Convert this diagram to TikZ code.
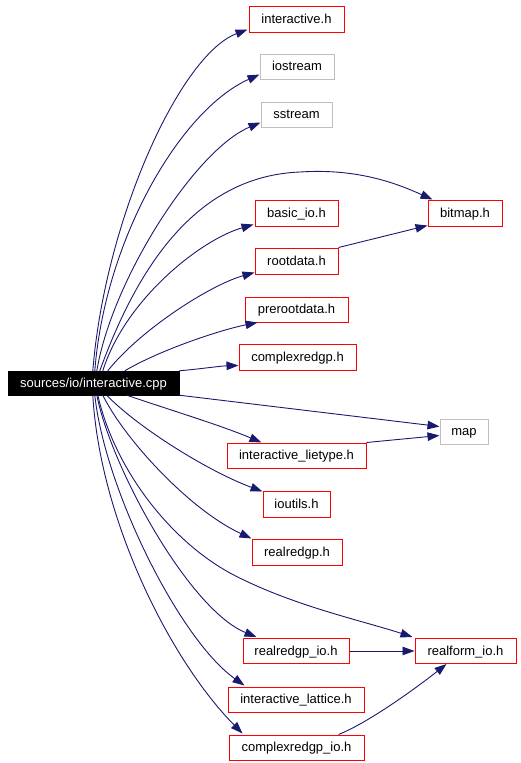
\documentclass[tikz,border=0pt]{standalone}
\usepackage{fontspec}
\setmainfont{Liberation Sans}
\usetikzlibrary{arrows.meta}
\definecolor{edgeblue}{RGB}{25,25,112}
\definecolor{boxred}{RGB}{255,0,0}
\definecolor{boxgray}{RGB}{191,191,191}
\tikzset{
  basebox/.style={inner sep=0pt, text height=10pt, text depth=2pt, font=\fontsize{13}{15}\selectfont},
  filebox/.style={basebox, draw=boxred, line width=1pt},
  extbox/.style={basebox, draw=boxgray, line width=1pt},
  rootbox/.style={basebox, fill=black, draw=black, text=white},
  edge/.style={draw=edgeblue, line width=0.9pt, -{Triangle[length=12pt,width=8.5pt]}, fill=none},
}
\begin{document}
\begin{tikzpicture}[x=1pt,y=-1pt]
\useasboundingbox (0,0) rectangle (520,763);
% nodes
\node[rootbox, minimum width=171pt, minimum height=24pt] (src) at (93.5,383) {sources/io/interactive.cpp};
\node[filebox, minimum width=95pt, minimum height=26pt] (ih) at (296.5,19) {interactive.h};
\node[extbox, minimum width=74pt, minimum height=25pt] (ios) at (297,66.5) {iostream};
\node[extbox, minimum width=71pt, minimum height=25pt] (ss) at (296.5,114.5) {sstream};
\node[filebox, minimum width=83pt, minimum height=26pt] (bio) at (296.5,213) {basic\_io.h};
\node[filebox, minimum width=74pt, minimum height=26pt] (bmp) at (465,213) {bitmap.h};
\node[filebox, minimum width=83pt, minimum height=26pt] (rd) at (296.5,261) {rootdata.h};
\node[filebox, minimum width=103pt, minimum height=25pt] (prd) at (296.5,309.5) {prerootdata.h};
\node[filebox, minimum width=117pt, minimum height=26pt] (crg) at (297.5,357) {complexredgp.h};
\node[extbox, minimum width=48pt, minimum height=25pt] (map) at (464,431.5) {map};
\node[filebox, minimum width=139pt, minimum height=25pt] (ilt) at (296.5,455.5) {interactive\_lietype.h};
\node[filebox, minimum width=67pt, minimum height=26pt] (iou) at (296.5,504) {ioutils.h};
\node[filebox, minimum width=90pt, minimum height=26pt] (rrg) at (297,552) {realredgp.h};
\node[filebox, minimum width=106pt, minimum height=25pt] (rrio) at (296,651) {realredgp\_io.h};
\node[filebox, minimum width=101pt, minimum height=25pt] (rfio) at (465.5,651) {realform\_io.h};
\node[filebox, minimum width=136pt, minimum height=25pt] (ilat) at (296,699.5) {interactive\_lattice.h};
\node[filebox, minimum width=135pt, minimum height=25pt] (cgio) at (296.5,747.5) {complexredgp\_io.h};
% edges from source, upward
\draw[edge] ([shift={(85,0)}]src.north west) .. controls (105,220) and (180,55) .. ([shift={(-1,-3)}]ih.south west);
\draw[edge] ([shift={(87,0)}]src.north west) .. controls (105,240) and (180,110) .. ([shift={(0,-5)}]ios.south west);
\draw[edge] ([shift={(89,0)}]src.north west) .. controls (112,280) and (195,150) .. ([shift={(0,-5)}]ss.south west);
\draw[edge] ([shift={(92,0)}]src.north west) .. controls (140,260) and (200,176) .. (300,172) .. controls (360,168) and (400,185) .. ([shift={(5,0)}]bmp.north west);
\draw[edge] ([shift={(95,0)}]src.north west) .. controls (125,300) and (200,240) .. ([shift={(-1,-2)}]bio.south west);
\draw[edge] ([shift={(100,0)}]src.north west) .. controls (140,330) and (210,285) .. ([shift={(0,-2)}]rd.south west);
\draw[edge] ([shift={(117,0)}]src.north west) .. controls (160,350) and (220,330) .. ([shift={(13,0)}]prd.south west);
\draw[edge] (src.north east) .. controls (200,369) and (220,366) .. ([shift={(0,-5)}]crg.south west);
% edges from source, downward
\draw[edge] (src.south east) -- ([shift={(0,8)}]map.north west);
\draw[edge] ([shift={(119,0)}]src.south west) .. controls (170,410) and (220,425) .. ([shift={(35,0)}]ilt.north west);
\draw[edge] ([shift={(99,0)}]src.south west) .. controls (135,425) and (205,470) .. ([shift={(0,1)}]iou.north west);
\draw[edge] ([shift={(95,0)}]src.south west) .. controls (125,440) and (190,510) .. (rrg.north west);
\draw[edge] ([shift={(90,0)}]src.south west) .. controls (115,470) and (170,540) .. (230,573) .. controls (290,605) and (360,620) .. ([shift={(-2,-1)}]rfio.north west);
\draw[edge] ([shift={(89,0)}]src.south west) .. controls (112,470) and (190,610) .. ([shift={(14,-1)}]rrio.north west);
\draw[edge] ([shift={(87,0)}]src.south west) .. controls (105,490) and (180,640) .. ([shift={(17,-1)}]ilat.north west);
\draw[edge] ([shift={(85,0)}]src.south west) .. controls (100,520) and (170,660) .. ([shift={(14,-1)}]cgio.north west);
% other edges
\draw[edge] (rd.north east) -- ([shift={(0,-1)}]bmp.south west);
\draw[edge] (ilt.north east) -- ([shift={(0,-9)}]map.south west);
\draw[edge] (rrio.east) -- (rfio.west);
\draw[edge] ([shift={(-26,0)}]cgio.north east) .. controls (370,722) and (420,685) .. ([shift={(32,0)}]rfio.south west);
\end{tikzpicture}
\end{document}
